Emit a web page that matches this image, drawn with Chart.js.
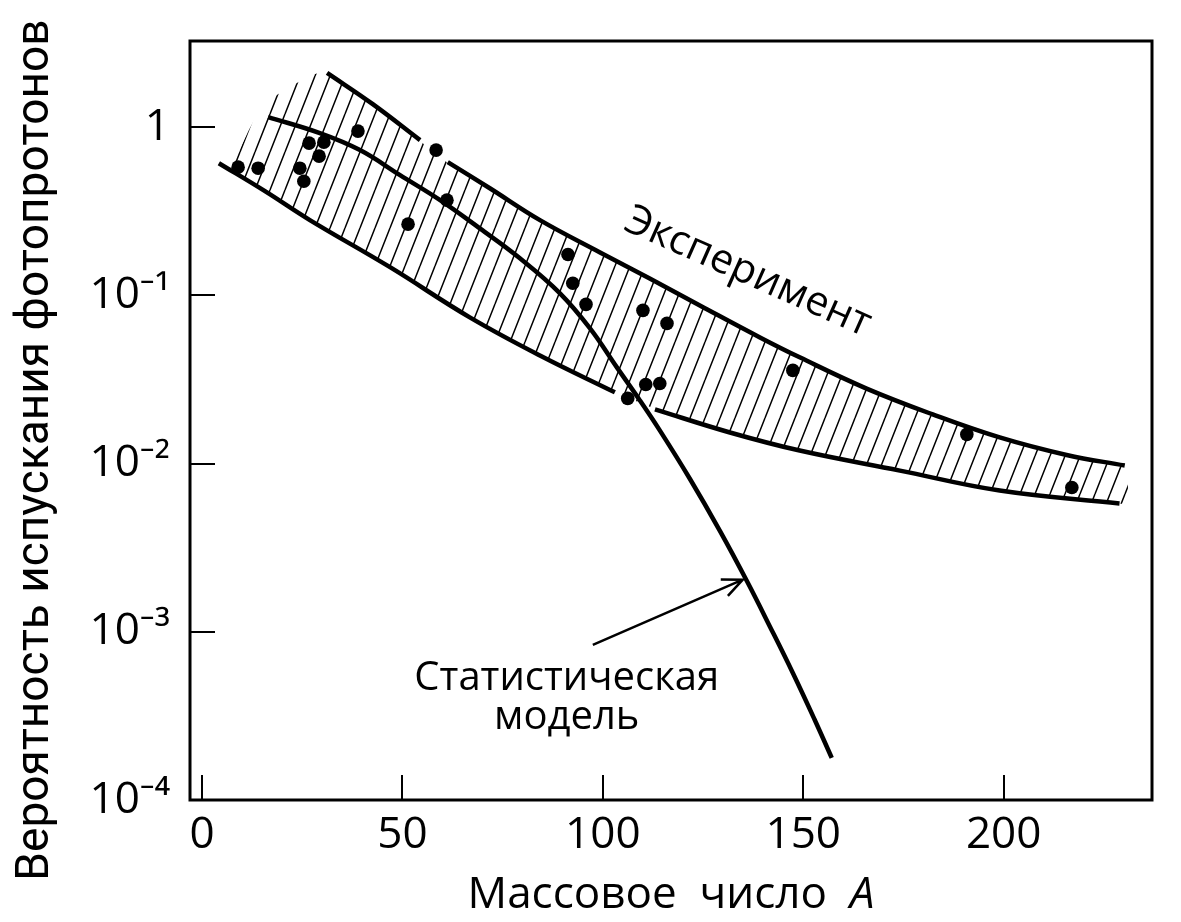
<!DOCTYPE html>
<html>
<head>
<meta charset="utf-8">
<script src="https://cdn.jsdelivr.net/npm/chart.js@4/dist/chart.umd.min.js"></script>
<style>
  html, body { margin: 0; padding: 0; background: #fff; }
  #wrap { width: 1181px; height: 922px; position: relative; }
</style>
</head>
<body>
<div id="wrap"><canvas id="c" width="1181" height="922"></canvas></div>
<script>
// ---- tick values and labels ----
const xTicks = [0, 50, 100, 150, 200];
const yTicks = [1e-4, 1e-3, 1e-2, 1e-1, 1];
const yTickLabels = ['10⁻⁴', '10⁻³', '10⁻²', '10⁻¹', '1'];

// ---- measured points (mass number A, probability) ----
const pointsA = [9.0, 14.0, 26.7, 30.4, 29.2, 24.4, 25.4, 38.9, 58.4, 61.1, 51.4, 91.3, 92.5, 95.8, 110.0, 116.0, 110.7, 114.2, 106.2, 147.4, 190.8, 217.0];
const pointsP = [0.578, 0.570, 0.803, 0.814, 0.672, 0.570, 0.477, 0.947, 0.730, 0.368, 0.265, 0.175, 0.118, 0.0884, 0.0814, 0.0681, 0.0295, 0.0299, 0.0244, 0.0358, 0.0149, 0.0072];

// ---- statistical model curve ----
const modelA = [16.5, 29.4, 39.4, 49.4, 59.4, 69.3, 79.3, 89.3, 96.8, 103.5, 109.2, 114.2, 121.7, 129.2, 135.9, 141.6, 147.4, 152.9, 157.1];
const modelP = [1.147, 0.921, 0.730, 0.518, 0.368, 0.250, 0.166, 0.1028, 0.0636, 0.0373, 0.0238, 0.01574, 0.00812, 0.00398, 0.00201, 0.001084, 0.000569, 0.000298, 0.000178];

// ---- experimental band: boundary segments ----
const upper1A = [31.2, 42.6, 54.4];
const upper1P = [2.10, 1.37, 0.837];
const upper2A = [61.3, 71.8, 84.3, 99.3, 111.7, 124.2, 139.2, 149.1, 165.8, 182.3, 199.0, 215.7, 230.2];
const upper2P = [0.619, 0.433, 0.280, 0.180, 0.126, 0.0871, 0.0562, 0.0428, 0.0279, 0.0196, 0.0143, 0.01125, 0.00973];
const lower1A = [4.2, 15.7, 26.9, 46.9, 66.8, 84.3, 103.0];
const lower1P = [0.610, 0.416, 0.280, 0.147, 0.0740, 0.0439, 0.0265];
const lower2A = [113.0, 131.7, 149.1, 174.1, 199.0, 228.9];
const lower2P = [0.0210, 0.0153, 0.01195, 0.00908, 0.00691, 0.00578];

// ---- hatched region of the band ----
const hatchA = [7, 15, 24, 31, 43, 54, 61, 72, 84, 99, 112, 124, 139, 149, 166, 182, 199, 216, 231];
const hatchTopP = [0.555, 1.30, 1.85, 2.10, 1.35, 0.84, 0.62, 0.433, 0.28, 0.18, 0.125, 0.087, 0.056, 0.043, 0.0279, 0.0196, 0.0143, 0.0113, 0.0097];
const hatchBotP = [0.555, 0.428, 0.312, 0.247, 0.166, 0.115, 0.0908, 0.0636, 0.0439, 0.0295, 0.0216, 0.0173, 0.0135, 0.01195, 0.00986, 0.00837, 0.00691, 0.00628, 0.0057];

// ---- annotation anchors (data coordinates) ----
const expLabelAt = [136.2, 0.137];
const modelLabelAt = [91.0, 0.00053];
const arrowFrom = [97.5, 0.000837];
const arrowTo = [134.9, 0.00204];
const expLabelText = 'Эксперимент';
const modelLabelLines = ['Статистическая', 'модель'];
const yTitleText = 'Вероятность испускания фотопротонов';
const xTitleMain = 'Массовое  число  ';
const xTitleVar = 'A';

const xy = (xs, ys) => xs.map((x, i) => ({ x: x, y: ys[i] }));

const canvas = document.getElementById('c');
const ctx0 = canvas.getContext('2d');
function makeHatch() {
  const c = document.createElement('canvas');
  const w = 15, h = 38;
  c.width = w; c.height = h;
  const g = c.getContext('2d');
  g.strokeStyle = '#000';
  g.lineWidth = 1.5;
  g.beginPath();
  for (let k = -1; k <= 1; k++) {
    g.moveTo(k * w, h); g.lineTo(k * w + w, 0);
  }
  g.stroke();
  return ctx0.createPattern(c, 'repeat');
}
const hatch = makeHatch();

const MAIN_FONT = "'Open Sans', 'Noto Sans', sans-serif";

const lineDs = (label, xs, ys) => ({
  label: label, data: xy(xs, ys), borderColor: '#000', borderWidth: 4.5,
  pointRadius: 0, fill: false, tension: 0.4, borderCapStyle: 'butt'
});

const annot = {
  id: 'annot',
  afterDatasetsDraw(chart) {
    const { ctx, scales: { x, y }, chartArea } = chart;
    ctx.save();
    // frame
    ctx.strokeStyle = '#000';
    ctx.lineWidth = 3;
    ctx.strokeRect(chartArea.left, chartArea.top, chartArea.right - chartArea.left, chartArea.bottom - chartArea.top);
    // experiment label
    ctx.fillStyle = '#000';
    ctx.font = "41px " + MAIN_FONT;
    ctx.textAlign = 'center';
    ctx.textBaseline = 'middle';
    ctx.save();
    ctx.translate(x.getPixelForValue(expLabelAt[0]), y.getPixelForValue(expLabelAt[1]));
    ctx.rotate(24 * Math.PI / 180);
    ctx.fillText(expLabelText, 0, 0);
    ctx.restore();
    // model label
    ctx.font = "40px " + MAIN_FONT;
    const mx = x.getPixelForValue(modelLabelAt[0]);
    const my = y.getPixelForValue(modelLabelAt[1]);
    ctx.fillText(modelLabelLines[0], mx, my);
    ctx.fillText(modelLabelLines[1], mx, my + 39);
    // arrow
    const ax0 = x.getPixelForValue(arrowFrom[0]), ay0 = y.getPixelForValue(arrowFrom[1]);
    const ax1 = x.getPixelForValue(arrowTo[0]), ay1 = y.getPixelForValue(arrowTo[1]);
    ctx.lineWidth = 2.5;
    ctx.beginPath();
    ctx.moveTo(ax0, ay0); ctx.lineTo(ax1, ay1);
    const ang = Math.atan2(ay1 - ay0, ax1 - ax0);
    const hl = 22, ha = 0.42;
    ctx.moveTo(ax1 - hl * Math.cos(ang - ha), ay1 - hl * Math.sin(ang - ha));
    ctx.lineTo(ax1, ay1);
    ctx.lineTo(ax1 - hl * Math.cos(ang + ha), ay1 - hl * Math.sin(ang + ha));
    ctx.stroke();
    // x axis title with italic variable
    ctx.font = "44px " + MAIN_FONT;
    const wMain = ctx.measureText(xTitleMain).width;
    ctx.font = "italic 44px " + MAIN_FONT;
    const wVar = ctx.measureText(xTitleVar).width;
    const cx = (chartArea.left + chartArea.right) / 2;
    const ty = 895;
    let sx = cx - (wMain + wVar) / 2;
    ctx.textAlign = 'left';
    ctx.font = "44px " + MAIN_FONT;
    ctx.fillText(xTitleMain, sx, ty);
    ctx.font = "italic 44px " + MAIN_FONT;
    ctx.fillText(xTitleVar, sx + wMain, ty);
    // y axis title
    ctx.font = "46px Roboto, sans-serif";
    ctx.textAlign = 'center';
    ctx.save();
    ctx.translate(36, 450);
    ctx.rotate(-Math.PI / 2);
    ctx.fillText(yTitleText, 0, 0);
    ctx.restore();
    ctx.restore();
  }
};

new Chart(canvas, {
  type: 'line',
  data: {
    datasets: [
      { label: 'hatchTop', data: xy(hatchA, hatchTopP), borderWidth: 0, borderColor: 'rgba(0,0,0,0)',
        pointRadius: 0, fill: '+1', backgroundColor: hatch, tension: 0.3 },
      { label: 'hatchBottom', data: xy(hatchA, hatchBotP), borderWidth: 0, borderColor: 'rgba(0,0,0,0)',
        pointRadius: 0, fill: false, tension: 0.3 },
      lineDs('upper1', upper1A, upper1P),
      lineDs('upper2', upper2A, upper2P),
      lineDs('lower1', lower1A, lower1P),
      lineDs('lower2', lower2A, lower2P),
      lineDs('Статистическая модель', modelA, modelP),
      { label: 'Эксперимент (точки)', data: xy(pointsA, pointsP), showLine: false,
        pointRadius: 6.8, pointHoverRadius: 6.8, pointBackgroundColor: '#000', pointBorderWidth: 0, borderColor: '#000' }
    ]
  },
  options: {
    responsive: false,
    animation: false,
    events: [],
    layout: { padding: { top: 41, right: 29, left: 0, bottom: 0 } },
    plugins: { legend: { display: false }, tooltip: { enabled: false } },
    scales: {
      x: {
        type: 'linear', min: -3, max: 237,
        afterBuildTicks: (s) => { s.ticks = xTicks.map(v => ({ value: v })); },
        afterFit: (s) => { s.height = 122; s.paddingLeft = 0; s.paddingRight = 0; },
        border: { display: false },
        grid: { display: true, drawOnChartArea: false, drawTicks: true, tickLength: -25, color: '#000', lineWidth: 2 },
        ticks: { color: '#000', font: { family: MAIN_FONT, size: 44 }, padding: 34, maxRotation: 0, autoSkip: false },
        title: { display: false, text: 'Массовое  число  A' }
      },
      y: {
        type: 'logarithmic', min: 1e-4, max: 3.25,
        afterBuildTicks: (s) => { s.ticks = yTicks.map(v => ({ value: v })); },
        afterFit: (s) => { s.width = 190; s.paddingTop = 0; s.paddingBottom = 0; },
        border: { display: false },
        grid: { display: true, drawOnChartArea: false, drawTicks: true, tickLength: -25, color: '#000', lineWidth: 2 },
        ticks: { color: '#000', font: { family: MAIN_FONT, size: 44 }, padding: 45, autoSkip: false,
          callback: (v) => { const i = yTicks.indexOf(v); return i >= 0 ? yTickLabels[i] : ''; } },
        title: { display: false, text: 'Вероятность испускания фотопротонов' }
      }
    }
  },
  plugins: [annot]
});
</script>
</body>
</html>
